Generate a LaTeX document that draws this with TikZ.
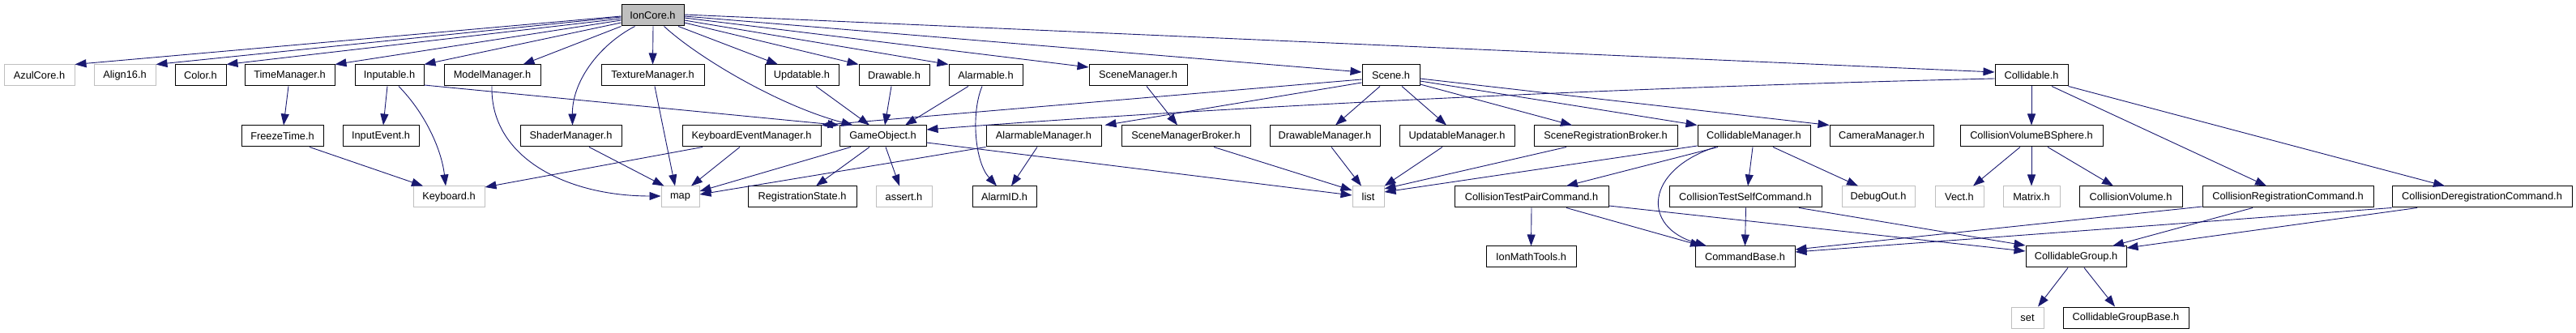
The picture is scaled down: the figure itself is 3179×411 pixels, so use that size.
\documentclass[tikz,border=0pt]{standalone}
\usepackage{fontspec}
\setmainfont{Liberation Sans}
\usetikzlibrary{arrows.meta}
\definecolor{edgec}{HTML}{191970}
\definecolor{grayb}{HTML}{BFBFBF}
\tikzset{
  nd/.style={draw=black, line width=1pt, rectangle, inner sep=0pt, minimum height=26pt,
    font=\fontsize{12.8}{14}\selectfont, fill=white},
  ext/.style={nd, draw=grayb},
  rootnd/.style={nd, fill=grayb},
  e/.style={draw=edgec, line width=0.9pt, -{Triangle[length=14pt,width=10pt]}}
}
\begin{document}
\begin{tikzpicture}[x=1pt,y=-1pt]
\useasboundingbox (0,0) rectangle (3179,411);
% root
\node[rootnd, minimum width=77pt] (ioncore) at (805.5,19) {IonCore.h};
% row 2
\node[ext, minimum width=87pt] (azul) at (48.5,93) {AzulCore.h};
\node[ext, minimum width=76pt] (align) at (154,93) {Align16.h};
\node[nd, minimum width=63pt] (color) at (247.5,93) {Color.h};
\node[nd, minimum width=111pt] (timemgr) at (357.5,93) {TimeManager.h};
\node[nd, minimum width=85pt] (inputable) at (480.5,93) {Inputable.h};
\node[nd, minimum width=119pt] (modelmgr) at (607.5,93) {ModelManager.h};
\node[nd, minimum width=127pt] (texturemgr) at (805.5,93) {TextureManager.h};
\node[nd, minimum width=91pt] (updatable) at (989.5,93) {Updatable.h};
\node[nd, minimum width=87pt] (drawable) at (1103.5,93) {Drawable.h};
\node[nd, minimum width=91pt] (alarmable) at (1216.5,93) {Alarmable.h};
\node[nd, minimum width=121pt] (scenemgr) at (1404.5,93) {SceneManager.h};
\node[nd, minimum width=71pt] (scene) at (1716.5,93) {Scene.h};
\node[nd, minimum width=90pt] (collidable) at (2507,93) {Collidable.h};
% row 3
\node[nd, minimum width=101pt] (freeze) at (348.5,168) {FreezeTime.h};
\node[nd, minimum width=94pt] (inputevent) at (470,168) {InputEvent.h};
\node[nd, minimum width=125pt] (shadermgr) at (704.5,168) {ShaderManager.h};
\node[nd, minimum width=171pt] (kem) at (927.5,168) {KeyboardEventManager.h};
\node[nd, minimum width=107pt] (gameobject) at (1089.5,168) {GameObject.h};
\node[nd, minimum width=142pt] (alarmablemgr) at (1288,168) {AlarmableManager.h};
\node[nd, minimum width=159pt] (smb) at (1463.5,168) {SceneManagerBroker.h};
\node[nd, minimum width=136pt] (drawablemgr) at (1635,168) {DrawableManager.h};
\node[nd, minimum width=142pt] (updatablemgr) at (1798,168) {UpdatableManager.h};
\node[nd, minimum width=177pt] (srb) at (1981.5,168) {SceneRegistrationBroker.h};
\node[nd, minimum width=139pt] (collidablemgr) at (2164.5,168) {CollidableManager.h};
\node[nd, minimum width=128pt] (cameramgr) at (2322,168) {CameraManager.h};
\node[nd, minimum width=176pt] (cvbs) at (2507,168) {CollisionVolumeBSphere.h};
% row 4
\node[ext, minimum width=88pt] (keyboard) at (554,243) {Keyboard.h};
\node[ext, minimum width=47pt] (map) at (839.5,243) {map};
\node[nd, minimum width=134pt] (regstate) at (990,243) {RegistrationState.h};
\node[ext, minimum width=69pt] (assert) at (1115.5,243) {assert.h};
\node[nd, minimum width=79pt] (alarmid) at (1239.5,243) {AlarmID.h};
\node[ext, minimum width=39pt] (list) at (1688.5,243) {list};
\node[nd, minimum width=190pt] (ctpc) at (1890,243) {CollisionTestPairCommand.h};
\node[nd, minimum width=188pt] (ctsc) at (2154,243) {CollisionTestSelfCommand.h};
\node[ext, minimum width=90pt] (debugout) at (2318,243) {DebugOut.h};
\node[ext, minimum width=60pt] (vect) at (2418,243) {Vect.h};
\node[ext, minimum width=70pt] (matrix) at (2507,243) {Matrix.h};
\node[nd, minimum width=127pt] (cvol) at (2629.5,243) {CollisionVolume.h};
\node[nd, minimum width=211pt] (crc) at (2823.5,243) {CollisionRegistrationCommand.h};
\node[nd, minimum width=222pt] (cdc) at (3063,243) {CollisionDeregistrationCommand.h};
% row 5
\node[nd, minimum width=111pt] (ionmath) at (1889.5,317) {IonMathTools.h};
\node[nd, minimum width=123pt] (cmdbase) at (2153.5,317) {CommandBase.h};
\node[nd, minimum width=124pt] (cgroup) at (2562,317) {CollidableGroup.h};
% row 6
\node[ext, minimum width=40pt] (set) at (2502,392) {set};
\node[nd, minimum width=155pt] (cgbase) at (2623.5,392) {CollidableGroupBase.h};

% ---- edges from IonCore
\draw[e] ([yshift=-1pt]ioncore.west) -- (azul.north east);
\draw[e] ([yshift=-2pt]ioncore.west) -- (align.north east);
\draw[e] ([yshift=-4pt]ioncore.west) -- (color.north east);
\draw[e] ([yshift=-6pt]ioncore.west) -- (timemgr.north east);
\draw[e] ([yshift=-9pt]ioncore.west) -- (inputable.north east);
\draw[e] (ioncore.south west) -- ([xshift=38pt]modelmgr.north);
\draw[e] ([xshift=0.5pt]ioncore.south) -- (texturemgr.north);
\draw[e] ([xshift=-22pt]ioncore.south) .. controls (740,55) and (706,100) .. ([xshift=2pt]shadermgr.north);
\draw[e] ([xshift=14pt]ioncore.south) .. controls (860,70) and (960,130) .. ([xshift=-37pt]gameobject.north);
\draw[e] ([xshift=31.5pt]ioncore.south) -- ([xshift=-29.5pt]updatable.north);
\draw[e] ([yshift=-9pt]ioncore.east) -- (drawable.north west);
\draw[e] ([yshift=-6pt]ioncore.east) -- (alarmable.north west);
\draw[e] ([yshift=-3pt]ioncore.east) -- ([yshift=10pt]scenemgr.west);
\draw[e] ([yshift=-1pt]ioncore.east) -- ([yshift=4pt]scene.west);
\draw[e] ([yshift=1pt]ioncore.east) -- ([yshift=4pt]collidable.west);

% ---- left part
\draw[e] ([xshift=-1.5pt]timemgr.south) -- ([xshift=1.5pt]freeze.north);
\draw[e] ([xshift=33.5pt]freeze.south) -- ([xshift=-32pt]keyboard.north);
\draw[e] ([xshift=-2.5pt]inputable.south) -- ([xshift=3pt]inputevent.north);
\draw[e] ([xshift=11.5pt]inputable.south) .. controls (525,140) and (545,185) .. ([xshift=-4pt]keyboard.north);
\draw[e] ([yshift=-12pt]inputable.east) -- (gameobject.north west);
\draw[e] ([xshift=-0.5pt]modelmgr.south) .. controls (605,195) and (700,242) .. ([yshift=1pt]map.west);
\draw[e] ([xshift=2.5pt]texturemgr.south) -- ([xshift=-6.5pt]map.north);
\draw[e] ([xshift=22.5pt]shadermgr.south) -- ([xshift=4pt]map.north west);
\draw[e] ([xshift=-14.5pt]kem.south) -- ([xshift=13.5pt]map.north);
\draw[e] ([xshift=-60.5pt]kem.south) -- ([yshift=12pt]keyboard.east);
\draw[e] ([xshift=-39.5pt]gameobject.south) -- ([yshift=7pt]map.east);
\draw[e] (alarmablemgr.south west) -- ([yshift=3pt]map.east);
\draw[e] ([xshift=-16.5pt]gameobject.south) -- ([xshift=17pt]regstate.north);
\draw[e] ([xshift=3.5pt]gameobject.south) -- ([xshift=-5.5pt]assert.north);
\draw[e] ([yshift=-8pt]gameobject.east) -- ([yshift=2pt]list.west);
\draw[e] ([xshift=17.5pt]updatable.south) -- ([xshift=-16.5pt]gameobject.north);
\draw[e] ([xshift=-3.5pt]drawable.south) -- ([xshift=2.5pt]gameobject.north);
\draw[e] ([xshift=-21.5pt]alarmable.south) -- ([xshift=27.5pt]gameobject.north);
\draw[e] ([xshift=-4.5pt]alarmable.south) .. controls (1198,140) and (1203,200) .. ([xshift=-9.5pt]alarmid.north);
\draw[e] ([xshift=-8pt]alarmablemgr.south) -- ([xshift=8.5pt]alarmid.north);
\draw[e] ([xshift=10.5pt]scenemgr.south) -- ([xshift=-10.5pt]smb.north);
\draw[e] ([xshift=34.5pt]smb.south) -- ([yshift=8pt]list.west);

% ---- Scene
\draw[e] ([xshift=-13.5pt]scene.south) -- ([xshift=13pt]drawablemgr.north);
\draw[e] ([xshift=13.5pt]scene.south) -- ([xshift=-13pt]updatablemgr.north);
\draw[e] ([yshift=-11pt]scene.east) -- ([xshift=-41.5pt]srb.north);
\draw[e] ([yshift=-7pt]scene.east) -- (collidablemgr.north west);
\draw[e] ([yshift=-4pt]scene.east) -- (cameramgr.north west);
\draw[e] ([yshift=-9pt]scene.west) -- ([xshift=4pt]alarmablemgr.north east);
\draw[e] ([yshift=-5pt]scene.west) -- (kem.north east);
\draw[e] ([xshift=8pt]drawablemgr.south) -- ([xshift=-8.5pt]list.north);
\draw[e] ([xshift=-18pt]updatablemgr.south) -- (list.north east);
\draw[e] ([xshift=-48.5pt]srb.south) -- ([yshift=10pt]list.east);

% ---- CollidableManager
\draw[e] ([yshift=-12pt]collidablemgr.west) -- ([yshift=6pt]list.east);
\draw[e] ([xshift=-44.5pt]collidablemgr.south) -- ([xshift=43pt]ctpc.north);
\draw[e] ([xshift=-1.5pt]collidablemgr.south) -- ([xshift=3pt]ctsc.north);
\draw[e] ([xshift=23.5pt]collidablemgr.south) -- ([xshift=-25pt]debugout.north);
\draw[e] ([xshift=-47.5pt]collidablemgr.south) .. controls (2030,210) and (2025,280) .. ([xshift=-47.5pt]cmdbase.north);
\draw[e] (ctpc.south) -- (ionmath.north);
\draw[e] ([xshift=43pt]ctpc.south) -- ([xshift=-53.5pt]cmdbase.north);
\draw[e] ([yshift=-11pt]ctpc.east) -- ([yshift=7pt]cgroup.west);
\draw[e] ([xshift=0.5pt]ctsc.south) -- (cmdbase.north);
\draw[e] ([xshift=66pt]ctsc.south) -- ([yshift=14pt]cgroup.west);

% ---- Collidable
\draw[e] (collidable.south) -- (cvbs.north);
\draw[e] ([xshift=25pt]collidable.south) -- ([xshift=-26.5pt]crc.north);
\draw[e] (collidable.south east) -- ([xshift=-46pt]cdc.north);
\draw[e] ([yshift=-4pt]collidable.west) .. controls (1900,110) and (1400,140) .. ([yshift=8pt]gameobject.east);
\draw[e] ([xshift=-14pt]cvbs.south) -- ([xshift=17pt]vect.north);
\draw[e] (cvbs.south) -- (matrix.north);
\draw[e] ([xshift=20pt]cvbs.south) -- ([xshift=-21.5pt]cvol.north);
\draw[e] ([yshift=-12pt]crc.west) -- ([yshift=9pt]cmdbase.east);
\draw[e] ([xshift=-43.5pt]crc.south) -- ([xshift=45pt]cgroup.north);
\draw[e] (cdc.south west) -- ([yshift=6pt]cmdbase.east);
\draw[e] ([xshift=-80pt]cdc.south) -- ([yshift=11pt]cgroup.east);
\draw[e] ([xshift=-10pt]cgroup.south) -- ([xshift=13pt]set.north);
\draw[e] ([xshift=10pt]cgroup.south) -- ([xshift=-13.5pt]cgbase.north);
\end{tikzpicture}
\end{document}
